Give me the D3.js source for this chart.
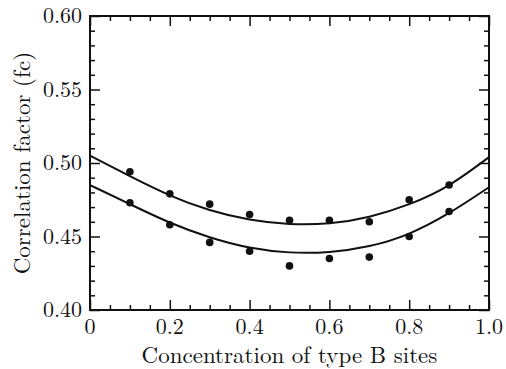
<!DOCTYPE html>
<html>
<head>
<meta charset="utf-8">
<script src="https://cdn.jsdelivr.net/npm/d3@7"></script>
<style>
    body { margin: 0; background: white; }
</style>
</head>
<body>
<div id="chart"></div>
<script>
const conc = [0.1, 0.2, 0.3, 0.4, 0.5, 0.6, 0.7, 0.8, 0.9];
const upperPts = [0.494, 0.479, 0.472, 0.465, 0.461, 0.461, 0.460, 0.475, 0.485];
const lowerPts = [0.473, 0.458, 0.446, 0.440, 0.430, 0.435, 0.436, 0.450, 0.467];

const curveX = [0, 0.1, 0.2, 0.3, 0.4, 0.5, 0.6, 0.7, 0.8, 0.9, 1.0];
const upperCurve = [0.505, 0.491, 0.478, 0.468, 0.4615, 0.4585, 0.459, 0.4635, 0.472, 0.485, 0.504];
const lowerCurve = [0.485, 0.472, 0.4595, 0.4495, 0.4425, 0.4392, 0.4395, 0.4435, 0.452, 0.466, 0.4835];

const xTicks = [0, 0.2, 0.4, 0.6, 0.8, 1.0];
const yTicks = [0.40, 0.45, 0.50, 0.55, 0.60];

const width = 506;
const height = 369;
const pl = 90;
const pr = 17;
const pt = 16;
const pb = 59;
const graphWidth = width - pl - pr;
const graphHeight = height - pt - pb;
const font = "'Latin Modern Roman', 'Liberation Serif', monospace";

const xScale = d3.scaleLinear().domain([0, 1]).range([0, graphWidth]);
const yScale = d3.scaleLinear().domain([0.40, 0.60]).range([graphHeight, 0]);

const svg = d3.select("#chart").append("svg")
    .attr("width", width)
    .attr("height", height);

const container = svg.append("g").attr("transform", `translate(${pl},${pt})`);

// minor + major ticks, pointing inward, on all four sides
const xMinor = d3.range(0, 1.0001, 0.05);
const yMinor = d3.range(0.40, 0.6001, 0.01);
const isMajorX = v => Math.abs(v * 5 - Math.round(v * 5)) < 1e-6;
const isMajorY = v => Math.abs(v * 20 - Math.round(v * 20)) < 1e-6;

container.append("g").attr("class", "xAxisBottom")
    .attr("transform", `translate(0,${graphHeight})`)
    .call(d3.axisBottom(xScale).tickValues(xMinor).tickSize(0).tickFormat(""))
    .call(g => g.selectAll(".tick line").attr("y2", d => isMajorX(d) ? -10 : -5));

container.append("g").attr("class", "xAxisTop")
    .call(d3.axisTop(xScale).tickValues(xMinor).tickSize(0).tickFormat(""))
    .call(g => g.selectAll(".tick line").attr("y2", d => isMajorX(d) ? 10 : 5));

container.append("g").attr("class", "yAxisLeft")
    .call(d3.axisLeft(yScale).tickValues(yMinor).tickSize(0).tickFormat(""))
    .call(g => g.selectAll(".tick line").attr("x2", d => isMajorY(d) ? 10 : 5));

container.append("g").attr("class", "yAxisRight")
    .attr("transform", `translate(${graphWidth},0)`)
    .call(d3.axisRight(yScale).tickValues(yMinor).tickSize(0).tickFormat(""))
    .call(g => g.selectAll(".tick line").attr("x2", d => isMajorY(d) ? -10 : -5));

container.selectAll(".tick line").attr("stroke", "#111").attr("stroke-width", 1.5);
container.selectAll(".domain").remove();

container.append("rect")
    .attr("width", graphWidth)
    .attr("height", graphHeight)
    .attr("fill", "none")
    .attr("stroke", "#111")
    .attr("stroke-width", 2);

// tick labels
container.selectAll("text.xLabel")
    .data(xTicks)
    .enter()
    .append("text")
    .attr("class", "xLabel")
    .attr("x", d => xScale(d))
    .attr("y", graphHeight + 24)
    .attr("text-anchor", "middle")
    .text(d => d === 0 ? "0" : d3.format(".1f")(d));

container.selectAll("text.yLabel")
    .data(yTicks)
    .enter()
    .append("text")
    .attr("class", "yLabel")
    .attr("x", -8)
    .attr("y", d => yScale(d))
    .attr("dy", "0.33em")
    .attr("text-anchor", "end")
    .text(d => d3.format(".2f")(d));

// fit curves
const line = d3.line()
    .x(d => xScale(d[0]))
    .y(d => yScale(d[1]))
    .curve(d3.curveNatural);

[upperCurve, lowerCurve].forEach(c => {
    container.append("path")
        .attr("d", line(curveX.map((x, i) => [x, c[i]])))
        .attr("fill", "none")
        .attr("stroke", "#111")
        .attr("stroke-width", 2);
});

// data points
[upperPts, lowerPts].forEach(s => {
    container.selectAll(null)
        .data(conc.map((x, i) => [x, s[i]]))
        .enter()
        .append("circle")
        .attr("cx", d => xScale(d[0]))
        .attr("cy", d => yScale(d[1]))
        .attr("r", 3.8)
        .attr("fill", "#111");
});

// axis titles
svg.append("text")
    .attr("class", "title")
    .attr("x", pl + graphWidth / 2)
    .attr("y", 363)
    .attr("text-anchor", "middle")
    .text("Concentration of type B sites");

svg.append("text")
    .attr("class", "title")
    .attr("transform", `translate(30,${pt + graphHeight / 2}) rotate(-90)`)
    .attr("text-anchor", "middle")
    .text("Correlation factor (fc)");

svg.selectAll("text")
    .attr("font-family", font)
    .attr("font-size", 22)
    .attr("fill", "#111");
svg.selectAll("text.title").attr("font-size", 23);
</script>
</body>
</html>
